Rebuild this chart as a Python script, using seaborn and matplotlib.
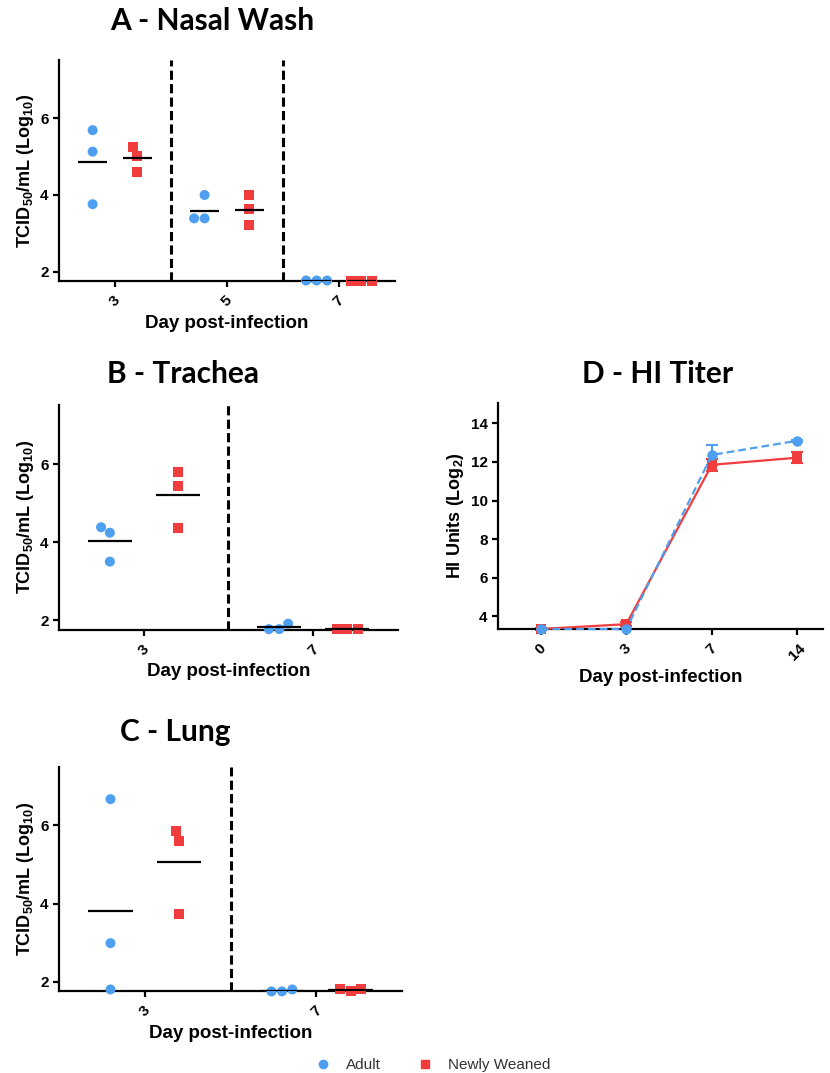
import matplotlib
matplotlib.use('Agg')
import matplotlib.pyplot as plt
from matplotlib.lines import Line2D
import seaborn as sns
import pandas as pd

groups = ['Adult', 'Newly Weaned']
colors = {'Adult': '#4f9ff0', 'Newly Weaned': '#f03c3c'}

# A - nasal wash, TCID50 (log10), 3 animals per group
nasal_days = ['3', '5', '7']
nasal_adult = [[5.69, 5.13, 3.76], [4.00, 3.39, 3.39], [1.77, 1.77, 1.77]]
nasal_weaned = [[5.26, 5.02, 4.61], [3.99, 3.64, 3.22], [1.77, 1.77, 1.77]]

# B - trachea
trachea_days = ['3', '7']
trachea_adult = [[4.38, 4.24, 3.50], [1.91, 1.77, 1.77]]
trachea_weaned = [[5.80, 5.44, 4.37], [1.77, 1.77, 1.77]]

# C - lung
lung_days = ['3', '7']
lung_adult = [[6.66, 2.99, 1.81], [1.81, 1.76, 1.76]]
lung_weaned = [[5.84, 5.60, 3.74], [1.81, 1.76, 1.81]]

# D - HI titer (log2), mean +/- sem
hi_days = ['0', '3', '7', '14']
hi_adult = [3.35, 3.35, 12.36, 13.10]
hi_adult_sem = [0.0, 0.0, 0.5, 0.05]
hi_weaned = [3.35, 3.60, 11.85, 12.22]
hi_weaned_sem = [0.05, 0.12, 0.30, 0.27]

sns.set_style('ticks')
plt.rcParams['font.family'] = ['Liberation Sans', 'DejaVu Sans']
plt.rcParams['mathtext.fontset'] = 'custom'
plt.rcParams['mathtext.rm'] = 'Liberation Sans:bold'
plt.rcParams['mathtext.bf'] = 'Liberation Sans:bold'
plt.rcParams['axes.linewidth'] = 1.6
plt.rcParams['axes.edgecolor'] = 'black'
plt.rcParams['text.color'] = 'black'
plt.rcParams['axes.labelcolor'] = 'black'
plt.rcParams['xtick.color'] = 'black'
plt.rcParams['ytick.color'] = 'black'

fig = plt.figure(figsize=(8.3, 10.73), dpi=100)
axA = fig.add_axes([0.0711, 0.7384, 0.4048, 0.2057])
axB = fig.add_axes([0.0711, 0.4133, 0.4084, 0.2092])
axC = fig.add_axes([0.0711, 0.0764, 0.4133, 0.2088])
axD = fig.add_axes([0.6, 0.4138, 0.3916, 0.2106])

ylab = r'TCID$_{\mathbf{50}}$/mL (Log$_{\mathbf{10}}$)'


def style_axis(ax):
    sns.despine(ax=ax)
    ax.tick_params(axis='both', length=4, width=1.6, color='black', labelsize=11)
    ax.tick_params(axis='x', pad=5)
    plt.setp(ax.get_xticklabels(), fontweight='bold', rotation=45)
    plt.setp(ax.get_yticklabels(), fontweight='bold')
    ax.set_xlabel('Day post-infection', fontsize=13.5, fontweight='bold', labelpad=4)


def tissue_panel(ax, days, adult, weaned, ylim):
    rows = []
    for d, a, w in zip(days, adult, weaned):
        rows += [(d, 'Adult', v) for v in a]
        rows += [(d, 'Newly Weaned', v) for v in w]
    df = pd.DataFrame(rows, columns=['day', 'group', 'titer'])
    for grp, mk in [('Adult', 'o'), ('Newly Weaned', 's')]:
        sns.swarmplot(data=df[df.group == grp], x='day', y='titer', hue='group',
                      hue_order=groups, order=days, dodge=True, palette=colors,
                      marker=mk, size=7.2, linewidth=0, clip_on=False,
                      legend=False, ax=ax, zorder=3)
    means = df.groupby(['day', 'group'])['titer'].mean()
    for i, d in enumerate(days):
        for j, g in enumerate(groups):
            c = i - 0.2 + 0.4 * j
            ax.hlines(means[d, g], c - 0.13, c + 0.13, color='black', lw=1.6, zorder=4)
    for i in range(len(days) - 1):
        ax.axvline(i + 0.5, color='black', ls=(0, (3, 1.4)), lw=2.2)
    ax.set_xlim(-0.5, len(days) - 0.5)
    ax.set_ylim(*ylim)
    ax.set_yticks([2, 4, 6])
    ax.set_ylabel(ylab, fontsize=13, fontweight='bold', labelpad=3)
    style_axis(ax)


tissue_panel(axA, nasal_days, nasal_adult, nasal_weaned, (1.765, 7.52))
tissue_panel(axB, trachea_days, trachea_adult, trachea_weaned, (1.76, 7.51))
tissue_panel(axC, lung_days, lung_adult, lung_weaned, (1.77, 7.48))

# D - HI titer
hi = pd.DataFrame({
    'day': list(range(len(hi_days))) * 2,
    'group': ['Newly Weaned'] * len(hi_days) + ['Adult'] * len(hi_days),
    'titer': hi_weaned + hi_adult,
    'err': hi_weaned_sem + hi_adult_sem,
})
sns.lineplot(data=hi, x='day', y='titer', hue='group', style='group',
             hue_order=['Newly Weaned', 'Adult'], palette=colors,
             markers={'Adult': 'o', 'Newly Weaned': 's'},
             dashes={'Adult': (3.5, 1.8), 'Newly Weaned': ''},
             markersize=7.5, markeredgewidth=0, lw=1.6, legend=False,
             clip_on=False, ax=axD, zorder=3)
for grp in ['Newly Weaned', 'Adult']:
    sub = hi[hi.group == grp]
    axD.errorbar(sub['day'], sub['titer'], yerr=sub['err'], fmt='none', ecolor=colors[grp],
                 elinewidth=1.5, capsize=4, capthick=1.5, zorder=2, clip_on=False)
axD.set_xticks(range(len(hi_days)))
axD.set_xticklabels(hi_days)
axD.set_xlim(-0.5, 3.3)
axD.set_ylim(3.35, 15.05)
axD.set_yticks([4, 6, 8, 10, 12, 14])
axD.set_ylabel(r'HI Units (Log$_{\mathbf{2}}$)', fontsize=13, fontweight='bold', labelpad=3)
style_axis(axD)

# panel titles
title_kw = dict(fontsize=21.5, fontweight='bold', family=['Lato', 'DejaVu Sans'],
                ha='center', va='center', color='black')
fig.text(212 / 830, 1 - 21 / 1073, 'A - Nasal Wash', **title_kw)
fig.text(183 / 830, 1 - 374 / 1073, 'B - Trachea', **title_kw)
fig.text(175 / 830, 1 - 732 / 1073, 'C - Lung', **title_kw)
fig.text(658 / 830, 1 - 374 / 1073, 'D - HI Titer', **title_kw)

handles = [Line2D([], [], ls='none', marker='o', color=colors['Adult'], markersize=6),
           Line2D([], [], ls='none', marker='s', color=colors['Newly Weaned'], markersize=6)]
fig.legend(handles, groups, loc='center', bbox_to_anchor=(0.522, 0.0075), ncol=2,
           frameon=False, fontsize=11, handlelength=1, handletextpad=1.0,
           columnspacing=2.4, labelcolor='#333333')

fig.savefig('out.png', dpi=100)
